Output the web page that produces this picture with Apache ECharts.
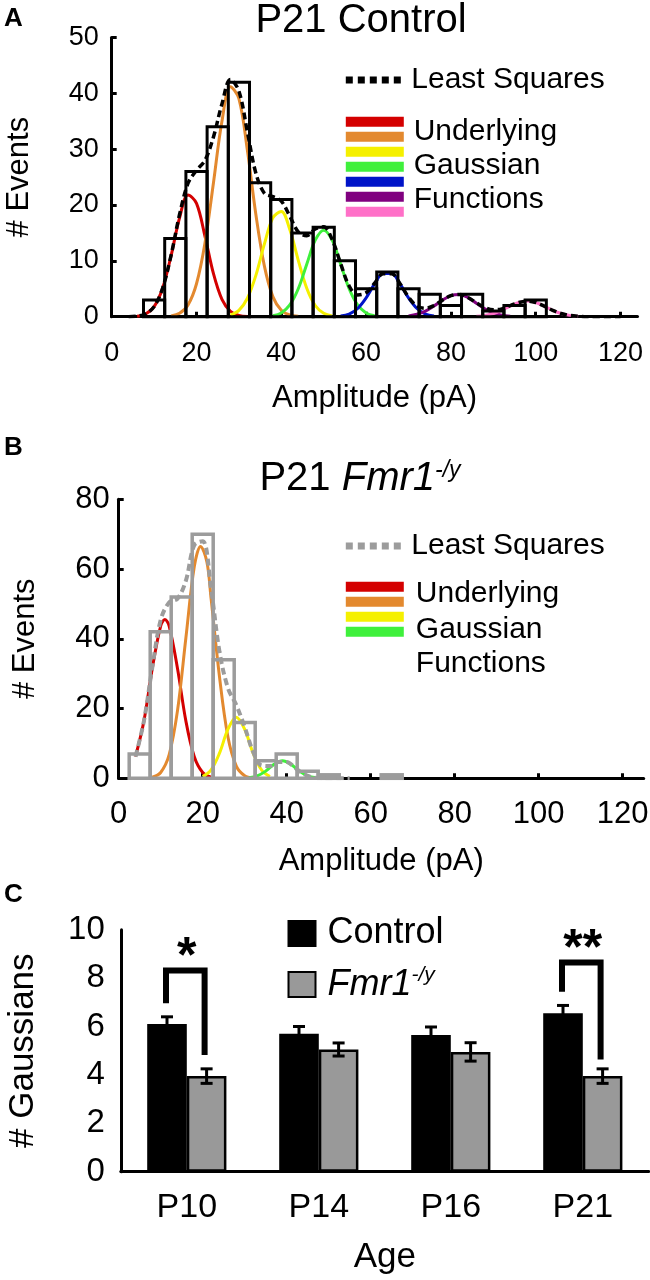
<!DOCTYPE html>
<html><head><meta charset="utf-8">
<script src="https://cdn.jsdelivr.net/npm/echarts@6/dist/echarts.min.js"></script>
<style>html,body{margin:0;padding:0;background:#fff}#c{width:650px;height:1280px}</style>
</head><body><div id="c"></div>
<script>
const FONT = '"Liberation Sans", Arial, Helvetica, sans-serif';

// ---------- Panel A : P21 Control ----------
const ticksA = [0, 20, 40, 60, 80, 100, 120];
const binsA = [10, 15, 20, 25, 30, 35, 40, 45, 50, 55, 60, 65, 70, 75, 80, 85, 90, 95, 100];
const countsA = [3, 14, 26, 34, 42, 24, 21, 15, 16, 10, 5, 8, 5, 4, 2, 4, 1, 2, 3];
const redA = [[6,0.1],[8,0.48],[10,1.8],[12,5.1],[14,10.9],[16,17.7],[18,21.8],[20,20.3],[22,14.4],[24,7.7],[26,3.1],[28,0.97],[30,0.23],[32,0.04]];
const orangeA = [[14,0.14],[16,0.61],[18,2.1],[20,5.9],[22,13.2],[24,24.0],[26,35.0],[28,41.2],[30,39.05],[32,29.8],[34,18.3],[36,9.1],[38,3.6],[40,1.16],[42,0.3],[44,0.06]];
const yellowA = [[28,0.3],[30,1.13],[32,3.3],[34,7.4],[36,13.0],[38,17.7],[40,18.85],[42,15.6],[44,10.1],[46,5.1],[48,2.0],[50,0.61],[52,0.14]];
const greenA = [[38,0.17],[40,0.68],[42,2.1],[44,5.0],[46,9.4],[48,13.7],[50,15.5],[52,13.7],[54,9.4],[56,5.0],[58,2.1],[60,0.68],[62,0.17]];
const blueA = [[54,0.12],[56,0.48],[58,1.47],[60,3.37],[62,5.86],[64,7.73],[66,7.73],[68,5.86],[70,3.37],[72,1.47],[74,0.48],[76,0.12]];
const purpleA = [[70,0.15],[72,0.43],[74,1.0],[76,1.9],[78,2.96],[80,3.78],[82,3.98],[84,3.43],[86,2.43],[88,1.41],[90,0.67],[92,0.26],[94,0.08]];
const pinkA = [[86,0.08],[88,0.24],[90,0.58],[92,1.15],[94,1.89],[96,2.54],[98,2.8],[100,2.54],[102,1.89],[104,1.15],[106,0.58],[108,0.24],[110,0.08]];
const lsqA = [[4,0],[6,0.1],[8,0.5],[10,1.8],[12,5.1],[14,11.0],[16,18.3],[18,23.9],[20,26.2],[22,28.0],[24,32.2],[26,38.1],[28,42.5],[30,40.4],[32,33.1],[34,25.7],[36,22.1],[38,21.5],[40,20.7],[42,18.0],[44,15.2],[46,14.5],[48,15.7],[50,16.1],[52,13.8],[54,9.5],[56,5.5],[58,3.9],[60,4.3],[62,6.0],[64,7.7],[66,7.7],[68,5.9],[70,3.5],[72,1.9],[74,1.5],[76,2.0],[78,2.96],[80,3.78],[82,3.98],[84,3.43],[86,2.5],[88,1.65],[90,1.25],[92,1.4],[94,2.0],[96,2.54],[98,2.8],[100,2.54],[102,1.89],[104,1.15],[106,0.58],[108,0.24],[110,0.08],[112,0],[120,0]];

// ---------- Panel B : P21 Fmr1-/y ----------
const ticksB = [0, 20, 40, 60, 80, 100, 120];
const binsB = [5, 10, 15, 20, 25, 30, 35, 40, 45, 50, 55, 60, 65];
const countsB = [7, 42, 52, 70, 34, 16, 5, 7, 2, 1, 0, 0, 1];
const redB = [[4,6.2],[6,16.4],[8,31.5],[10,43.7],[11,45.5],[12,43.7],[14,31.5],[16,16.4],[18,6.2],[20,1.67],[22,0.33]];
const orangeB = [[8,0.3],[10,1.67],[12,6.7],[14,19.4],[16,40.3],[18,60.7],[19.5,66.5],[21,62.0],[22,51.5],[24,29.1],[26,11.9],[28,3.5],[30,0.74],[32,0.11]];
const yellowB = [[20,0.5],[22,2.4],[24,7.2],[26,14.0],[28,17.5],[30,14.0],[32,7.2],[34,2.4],[36,0.5]];
const greenB = [[31,0.14],[33,0.68],[35,2.06],[37,4.0],[39,5.0],[41,4.0],[43,2.06],[45,0.68],[47,0.14]];
const lsqB = [[4,6.2],[6,16.4],[8,31.8],[10,45.4],[12,50.4],[14,51.5],[16,56.7],[18,66.9],[20,68.0],[22,54.2],[24,36.3],[26,25.9],[28,21.0],[30,14.7],[32,7.6],[34,3.65],[36,3.5],[38,4.7],[40,4.7],[42,3.0],[44,1.25],[46,0.33],[48,0.06],[50,0],[55,0]];

// ---------- Panel C : number of Gaussians ----------
const ages = ['P10', 'P14', 'P16', 'P21'];
const controlMean = [6.1, 5.7, 5.65, 6.55];
const controlSem = [0.3, 0.3, 0.33, 0.32];
const fmrMean = [3.95, 5.05, 4.95, 3.95];
const fmrSem = [0.3, 0.27, 0.38, 0.3];
const sigBrackets = [[0, 8.31, 6.96, 4.82, '*'], [3, 8.64, 7.44, 4.64, '**']];
const ticksC = [0, 2, 4, 6, 8, 10];

const gaussColors = {red:'#d40000', orange:'#e3892f', yellow:'#f5f000', green:'#3ff03c', blue:'#0014c8', purple:'#80007f', pink:'#ff70c8'};
const DOTS = 'path://M0,0h7v7h-7zM12,0h7v7h-7zM24,0h7v7h-7zM36,0h7v7h-7zM48,0h7v7h-7z';

function histRender(binW, stroke, lw) {
  return function (params, api) {
    const c = api.value(0), h = api.value(1);
    if (!h) return null;
    const p0 = api.coord([c - binW / 2, h]);
    const p1 = api.coord([c + binW / 2, 0]);
    return {type:'rect', shape:{x:p0[0], y:p0[1], width:p1[0]-p0[0], height:p1[1]-p0[1]},
      style:{fill:'transparent', stroke:stroke, lineWidth:lw}};
  };
}
function curve(name, data, color, xi) {
  return {type:'line', name:name, xAxisIndex:xi, yAxisIndex:xi, data:data, smooth:0.35, symbol:'none',
    color:color, lineStyle:{color:color, width:3}, z:2, silent:true};
}
function errRender(side) {
  return function (params, api) {
    const i = api.value(0), m = api.value(1), e = api.value(2);
    const bw = api.size([1, 0])[0] * 0.3;
    const c = api.coord([i, m]);
    const x = c[0] + side * bw / 2;
    const top = api.coord([i, m + e])[1], bot = api.coord([i, m - e])[1];
    const cap = 6;
    const st = {stroke:'#000', lineWidth:3};
    return {type:'group', children:[
      {type:'line', shape:{x1:x, y1:top, x2:x, y2:bot}, style:st},
      {type:'line', shape:{x1:x-cap, y1:top, x2:x+cap, y2:top}, style:st},
      {type:'line', shape:{x1:x-cap, y1:bot, x2:x+cap, y2:bot}, style:st}
    ]};
  };
}
function bracketRender(params, api) {
  const i = api.value(0), top = api.value(1), lb = api.value(2), rb = api.value(3);
  const star = sigBrackets[params.dataIndex][4];
  const bw = api.size([1, 0])[0] * 0.3;
  const c = api.coord([i, top]);
  const lx = c[0] - bw / 2 - 1, rx = c[0] + bw / 2 - 2;
  const yl = api.coord([i, lb])[1], yr = api.coord([i, rb])[1];
  return {type:'group', children:[
    {type:'polyline', shape:{points:[[lx, yl], [lx, c[1]], [rx, c[1]], [rx, yr]]},
      style:{stroke:'#000', lineWidth:6, fill:null, lineJoin:'miter'}},
    {type:'text', x:c[0], y:c[1] - 12, style:{text:star, fontSize:50, fontWeight:'bold', fontFamily:FONT,
      align:'center', verticalAlign:'middle', fill:'#000'}}
  ]};
}

const axisLineS = {show:true, lineStyle:{color:'#000', width:3}};
function valueX(gi, max, ticks, fs, margin, nameGap) {
  return {gridIndex:gi, type:'value', min:0, max:max,
    axisLine:axisLineS, splitLine:{show:false},
    axisTick:{show:true, inside:true, length:5, lineStyle:{color:'#000', width:3}, customValues:ticks},
    axisLabel:{color:'#000', fontSize:fs, margin:margin, fontFamily:FONT, customValues:ticks},
    name:'Amplitude (pA)', nameLocation:'middle', nameGap:nameGap,
    nameTextStyle:{color:'#000', fontSize:31, fontFamily:FONT}};
}
function valueY(gi, max, interval, fs, margin, nameGap) {
  return {gridIndex:gi, type:'value', min:0, max:max, interval:interval,
    axisLine:axisLineS, splitLine:{show:false},
    axisTick:{show:true, inside:true, length:5, lineStyle:{color:'#000', width:3}},
    axisLabel:{color:'#000', fontSize:fs, margin:margin, fontFamily:FONT},
    name:'# Events', nameLocation:'middle', nameGap:nameGap,
    nameTextStyle:{color:'#000', fontSize:31, fontFamily:FONT}};
}

const series = [
  curve('A-red', redA, gaussColors.red, 0),
  curve('A-orange', orangeA, gaussColors.orange, 0),
  curve('A-yellow', yellowA, gaussColors.yellow, 0),
  curve('A-green', greenA, gaussColors.green, 0),
  curve('A-blue', blueA, gaussColors.blue, 0),
  curve('A-purple', purpleA, gaussColors.purple, 0),
  curve('A-pink', pinkA, gaussColors.pink, 0),
  {type:'custom', name:'A-hist', xAxisIndex:0, yAxisIndex:0, z:3, silent:true,
    data:binsA.map((b, i) => [b, countsA[i]]), encode:{x:0, y:1}, renderItem:histRender(5, '#000', 3)},
  {type:'line', name:'A-lsq', xAxisIndex:0, yAxisIndex:0, data:lsqA, smooth:0.35, symbol:'none', z:4, silent:true,
    color:'#000', lineStyle:{color:'#000', width:3.5, type:[7, 4]}},

  curve('B-red', redB, gaussColors.red, 1),
  curve('B-orange', orangeB, gaussColors.orange, 1),
  curve('B-yellow', yellowB, gaussColors.yellow, 1),
  curve('B-green', greenB, gaussColors.green, 1),
  {type:'custom', name:'B-hist', xAxisIndex:1, yAxisIndex:1, z:3, silent:true,
    data:binsB.map((b, i) => [b, countsB[i]]), encode:{x:0, y:1}, renderItem:histRender(5, '#9c9c9c', 3.5)},
  {type:'line', name:'B-lsq', xAxisIndex:1, yAxisIndex:1, data:lsqB, smooth:0.35, symbol:'none', z:4, silent:true,
    color:'#9c9c9c', lineStyle:{color:'#9c9c9c', width:4, type:[7, 4]}},

  {type:'bar', name:'Control', xAxisIndex:2, yAxisIndex:2, data:controlMean, barCategoryGap:'40%', barGap:'0%',
    color:'#000', itemStyle:{color:'#000', borderColor:'#000', borderWidth:2}, silent:true},
  {type:'bar', name:'Fmr1', xAxisIndex:2, yAxisIndex:2, data:fmrMean, barCategoryGap:'40%', barGap:'0%',
    color:'#999999', itemStyle:{color:'#999999', borderColor:'#000', borderWidth:2.5}, silent:true},
  {type:'custom', name:'err-control', xAxisIndex:2, yAxisIndex:2, z:5, silent:true,
    data:controlMean.map((m, i) => [i, m, controlSem[i]]), encode:{x:0, y:1}, renderItem:errRender(-1)},
  {type:'custom', name:'err-fmr', xAxisIndex:2, yAxisIndex:2, z:5, silent:true,
    data:fmrMean.map((m, i) => [i, m, fmrSem[i]]), encode:{x:0, y:1}, renderItem:errRender(1)},
  {type:'custom', name:'sig', xAxisIndex:2, yAxisIndex:2, z:6, silent:true,
    data:sigBrackets.map(b => [b[0], b[1], b[2], b[3]]), encode:{x:0, y:1}, renderItem:bracketRender}
];

const swatchLegend = (names, left, top) => ({
  data:names, left:left, top:top, orient:'vertical', icon:'rect', itemWidth:58, itemHeight:10, itemGap:5,
  padding:0, selectedMode:false, formatter:() => '', textStyle:{fontSize:10, lineHeight:10}
});
const lsqLegend = (name, left, top) => ({
  data:[name], left:left, top:top, icon:DOTS, itemWidth:58, itemHeight:7, padding:0, selectedMode:false,
  formatter:() => 'Least Squares', itemStyle:{borderWidth:0},
  textStyle:{fontSize:30, color:'#000', fontFamily:FONT, lineHeight:32, padding:[0,0,0,4]}
});

const option = {
  animation:false,
  backgroundColor:'#fff',
  textStyle:{fontFamily:FONT, color:'#000'},
  title:[
    {text:'P21 Control', left:361, top:1, textAlign:'center', padding:0,
      textStyle:{fontSize:40, fontWeight:'normal', color:'#000', fontFamily:FONT}},
    {text:'P21 {i|Fmr1}{s|-/y}', left:360, top:459, textAlign:'center', padding:0,
      textStyle:{fontSize:40, fontWeight:'normal', color:'#000', fontFamily:FONT,
        rich:{i:{fontStyle:'italic', fontSize:40, fontFamily:FONT, color:'#000'},
              s:{fontStyle:'italic', fontSize:23, lineHeight:18, verticalAlign:'top', fontFamily:FONT, color:'#000'}}}}
  ],
  grid:[
    {left:111.7, top:37.5, width:525.8, height:279.2, outerBoundsMode:'none'},
    {left:118.7, top:499.3, width:525, height:279, outerBoundsMode:'none'},
    {left:120.8, top:929.7, width:528, height:242, outerBoundsMode:'none'}
  ],
  xAxis:[
    valueX(0, 124, ticksA, 27, 23, 66),
    valueX(1, 125, ticksB, 31, 21, 68),
    {gridIndex:2, type:'category', data:ages, axisLine:axisLineS, axisTick:{show:false},
      axisLabel:{color:'#000', fontSize:34, margin:19, fontFamily:FONT},
      name:'Age', nameLocation:'middle', nameGap:68, nameTextStyle:{color:'#000', fontSize:35, fontFamily:FONT}}
  ],
  yAxis:[
    valueY(0, 50, 10, 27, 13, 77),
    valueY(1, 80, 20, 31, 9, 78),
    {gridIndex:2, type:'value', min:0, max:10, interval:2, axisLine:axisLineS, axisTick:{show:false},
      splitLine:{show:false}, axisLabel:{color:'#000', fontSize:33, margin:16, fontFamily:FONT, customValues:ticksC},
      name:'# Gaussians', nameLocation:'middle', nameGap:80, nameTextStyle:{color:'#000', fontSize:35, fontFamily:FONT}}
  ],
  legend:[
    lsqLegend('A-lsq', 345.8, 64),
    swatchLegend(['A-red','A-orange','A-yellow','A-green','A-blue','A-purple','A-pink'], 345.8, 116.7),
    lsqLegend('B-lsq', 345.8, 530),
    swatchLegend(['B-red','B-orange','B-yellow','B-green'], 345.8, 581.7),
    {data:['Control','Fmr1'], left:287.5, top:914, orient:'vertical', icon:'rect', itemWidth:27, itemHeight:25,
      itemGap:12, padding:0, selectedMode:false,
      formatter:n => n === 'Fmr1' ? '{i|Fmr1}{s|-/y}' : n,
      textStyle:{fontSize:36, color:'#000', fontFamily:FONT, lineHeight:39, padding:[0,0,0,7],
        rich:{i:{fontStyle:'italic', fontSize:36, fontFamily:FONT, color:'#000', lineHeight:39},
              s:{fontStyle:'italic', fontSize:21, lineHeight:18, verticalAlign:'top', fontFamily:FONT, color:'#000'}}}}
  ],
  graphic:[
    {type:'text', left:4, top:6, style:{text:'A', fontSize:26, fontWeight:'bold', fontFamily:FONT, fill:'#000'}},
    {type:'text', left:4, top:435, style:{text:'B', fontSize:26, fontWeight:'bold', fontFamily:FONT, fill:'#000'}},
    {type:'text', left:4, top:882, style:{text:'C', fontSize:26, fontWeight:'bold', fontFamily:FONT, fill:'#000'}},
    {type:'text', x:413.7, y:131.7, style:{text:'Underlying', fontSize:30, fontFamily:FONT, fill:'#000', verticalAlign:'middle'}},
    {type:'text', x:413.7, y:165.7, style:{text:'Gaussian', fontSize:30, fontFamily:FONT, fill:'#000', verticalAlign:'middle'}},
    {type:'text', x:413.7, y:200, style:{text:'Functions', fontSize:30, fontFamily:FONT, fill:'#000', verticalAlign:'middle'}},
    {type:'text', x:415.8, y:593.3, style:{text:'Underlying', fontSize:30, fontFamily:FONT, fill:'#000', verticalAlign:'middle'}},
    {type:'text', x:415.8, y:630, style:{text:'Gaussian', fontSize:30, fontFamily:FONT, fill:'#000', verticalAlign:'middle'}},
    {type:'text', x:415.8, y:663.3, style:{text:'Functions', fontSize:30, fontFamily:FONT, fill:'#000', verticalAlign:'middle'}}
  ],
  series:series
};

const chart = echarts.init(document.getElementById('c'), null, {renderer:'canvas'});
chart.setOption(option);
</script>
</body></html>
